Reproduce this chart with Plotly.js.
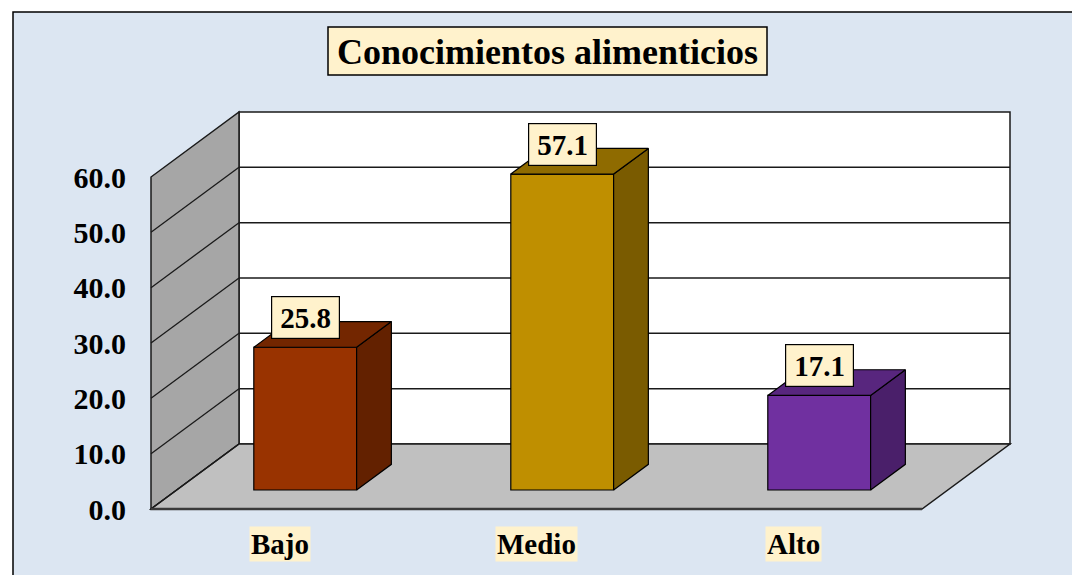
<!DOCTYPE html>
<html>
<head>
<meta charset="utf-8">
<script src="https://cdn.plot.ly/plotly-3.0.1.min.js"></script>
<style>
  html, body { margin: 0; padding: 0; background: #ffffff; }
  #chart { width: 1072px; height: 575px; }
</style>
</head>
<body>
<div id="chart"></div>
<script>
// ---- Data ----
const categories = ['Bajo', 'Medio', 'Alto'];
const values = [25.8, 57.1, 17.1];
const valueLabels = ['25.8', '57.1', '17.1'];
const yTickVals = [0, 10, 20, 30, 40, 50, 60];
const yTickText = ['0.0', '10.0', '20.0', '30.0', '40.0', '50.0', '60.0'];
const chartTitle = 'Conocimientos alimenticios';

// ---- Styles ----
const frontColors = ['#993300', '#bf8f00', '#7030a0'];
const topColors = ['#732600', '#8f6b00', '#58267e'];
const sideColors = ['#632100', '#7a5b00', '#4a1f6a'];
const FONT = '"Liberation Serif", "Times New Roman", Times, serif';

// ---- Geometry (layout) ----
const W = 1072, H = 575;
const M = { l: 140, r: 55, t: 100, b: 60 };
const plotW = W - M.l - M.r, plotH = H - M.t - M.b;
const FRONT_LEFT_PX = 151, UNIT_X_PX = 257;
const ZERO_PX = 509, UNIT_Y_PX = 5.533;
const DEPTH_X = 88 / UNIT_X_PX;
const DEPTH_Y = 65 / UNIT_Y_PX;
const BAR_OFF = 0.292;
const BAR_DEPTH = 0.395;
const BAR_W = 0.4;
const WALL_TOP = 60;

const xFromPx = px => -0.5 + (px - FRONT_LEFT_PX) / UNIT_X_PX;
const yFromPx = py => (ZERO_PX - py) / UNIT_Y_PX;
const pxX = px => (px - M.l) / plotW;
const pxY = py => (H - M.b - py) / plotH;

const xRange = [xFromPx(M.l), xFromPx(W - M.r)];
const yRange = [yFromPx(H - M.b), yFromPx(M.t)];

const nCat = categories.length;
const xl = -0.5, xr = nCat - 0.5;
const bx = xl + DEPTH_X, by = DEPTH_Y;

// ---- Traces ----
const traces = [];
const offX = BAR_OFF * DEPTH_X, offY = BAR_OFF * DEPTH_Y;
const dX = BAR_DEPTH * DEPTH_X, dY = BAR_DEPTH * DEPTH_Y;

traces.push({
  type: 'bar',
  x: categories.map((c, i) => i + offX),
  y: values,
  base: offY,
  width: BAR_W,
  marker: { color: frontColors, line: { color: '#000000', width: 1.2 } },
  hoverinfo: 'skip',
  showlegend: false
});

values.forEach((v, i) => {
  const L = i + offX - BAR_W / 2, R = i + offX + BAR_W / 2;
  const y0 = offY, y1 = offY + v;
  traces.push({
    type: 'scatter', mode: 'lines', fill: 'toself',
    x: [R, R + dX, R + dX, R, R],
    y: [y0, y0 + dY, y1 + dY, y1, y0],
    fillcolor: sideColors[i], line: { color: '#000000', width: 1.2 },
    hoverinfo: 'skip', showlegend: false
  });
  traces.push({
    type: 'scatter', mode: 'lines', fill: 'toself',
    x: [L, R, R + dX, L + dX, L],
    y: [y1, y1, y1 + dY, y1 + dY, y1],
    fillcolor: topColors[i], line: { color: '#000000', width: 1.2 },
    hoverinfo: 'skip', showlegend: false
  });
});

// ---- Shapes ----
const shapes = [];
shapes.push({
  type: 'rect', xref: 'paper', yref: 'paper', layer: 'below',
  x0: pxX(13), x1: pxX(W + 20), y0: pxY(H + 20), y1: pxY(12),
  fillcolor: '#dce6f2', line: { color: '#000000', width: 1.5 }
});
shapes.push({
  type: 'rect', xref: 'paper', yref: 'paper', layer: 'below',
  x0: pxX(328), x1: pxX(767), y0: pxY(75), y1: pxY(27),
  fillcolor: '#fff2cc', line: { color: '#000000', width: 1.5 }
});
shapes.push({
  type: 'rect', xref: 'x', yref: 'y', layer: 'below',
  x0: bx, x1: xr + DEPTH_X, y0: by, y1: by + WALL_TOP,
  fillcolor: '#ffffff', line: { color: '#1a1a1a', width: 1.5 }
});
shapes.push({
  type: 'path', xref: 'x', yref: 'y', layer: 'below',
  path: `M ${xl},0 L ${xl},${WALL_TOP} L ${bx},${by + WALL_TOP} L ${bx},${by} Z`,
  fillcolor: '#a6a6a6', line: { color: '#1a1a1a', width: 1.5 }
});
shapes.push({
  type: 'path', xref: 'x', yref: 'y', layer: 'below',
  path: `M ${xl},0 L ${xr},0 L ${xr + DEPTH_X},${by} L ${bx},${by} Z`,
  fillcolor: '#c0c0c0', line: { color: '#1a1a1a', width: 1.5 }
});
yTickVals.forEach(v => {
  if (v > 0 && v < WALL_TOP) {
    shapes.push({
      type: 'line', xref: 'x', yref: 'y', layer: 'below',
      x0: bx, x1: xr + DEPTH_X, y0: by + v, y1: by + v,
      line: { color: '#1a1a1a', width: 1.5 }
    });
  }
  if (v < WALL_TOP) {
    shapes.push({
      type: 'line', xref: 'x', yref: 'y', layer: 'below',
      x0: xl, x1: bx, y0: v, y1: by + v,
      line: { color: '#1a1a1a', width: 1.3 }
    });
  }
});
shapes.push({
  type: 'line', xref: 'x', yref: 'y', layer: 'below',
  x0: xl, x1: xr, y0: 0, y1: 0,
  line: { color: '#3a3a3a', width: 2.5 }
});

// ---- Annotations ----
const annotations = [];
categories.forEach((c, i) => {
  annotations.push({
    text: c, xref: 'x', yref: 'paper', x: i, y: pxY(544),
    xanchor: 'center', yanchor: 'middle', showarrow: false,
    bgcolor: '#fff2cc', borderpad: 1, height: 32,
    font: { family: FONT, size: 29, weight: 'bold', color: '#000000' }
  });
});
values.forEach((v, i) => {
  annotations.push({
    text: valueLabels[i], xref: 'x', yref: 'y', x: i + offX, y: offY + v,
    yshift: 30, xanchor: 'center', yanchor: 'middle', showarrow: false,
    bgcolor: '#fff2cc', bordercolor: '#000000', borderwidth: 1.2, borderpad: 3,
    width: 61, height: 35,
    font: { family: FONT, size: 29, weight: 'bold', color: '#000000' }
  });
});

const layout = {
  width: W, height: H,
  margin: M,
  paper_bgcolor: '#ffffff',
  plot_bgcolor: 'rgba(0,0,0,0)',
  showlegend: false,
  title: {
    text: chartTitle,
    xref: 'container', yref: 'container',
    x: 547.5 / W, y: 1 - 51 / H, xanchor: 'center', yanchor: 'middle',
    font: { family: FONT, size: 36, weight: 'bold', color: '#000000' }
  },
  xaxis: { range: xRange, visible: false, fixedrange: true },
  yaxis: {
    range: yRange, fixedrange: true,
    showgrid: false, zeroline: false, showline: false,
    tickmode: 'array', tickvals: yTickVals, ticktext: yTickText,
    ticks: '', ticklabelstandoff: 13,
    tickfont: { family: FONT, size: 30, weight: 'bold', color: '#000000' }
  },
  shapes: shapes,
  annotations: annotations,
  bargap: 0
};

Plotly.newPlot('chart', traces, layout, { staticPlot: true, displayModeBar: false });
</script>
</body>
</html>
